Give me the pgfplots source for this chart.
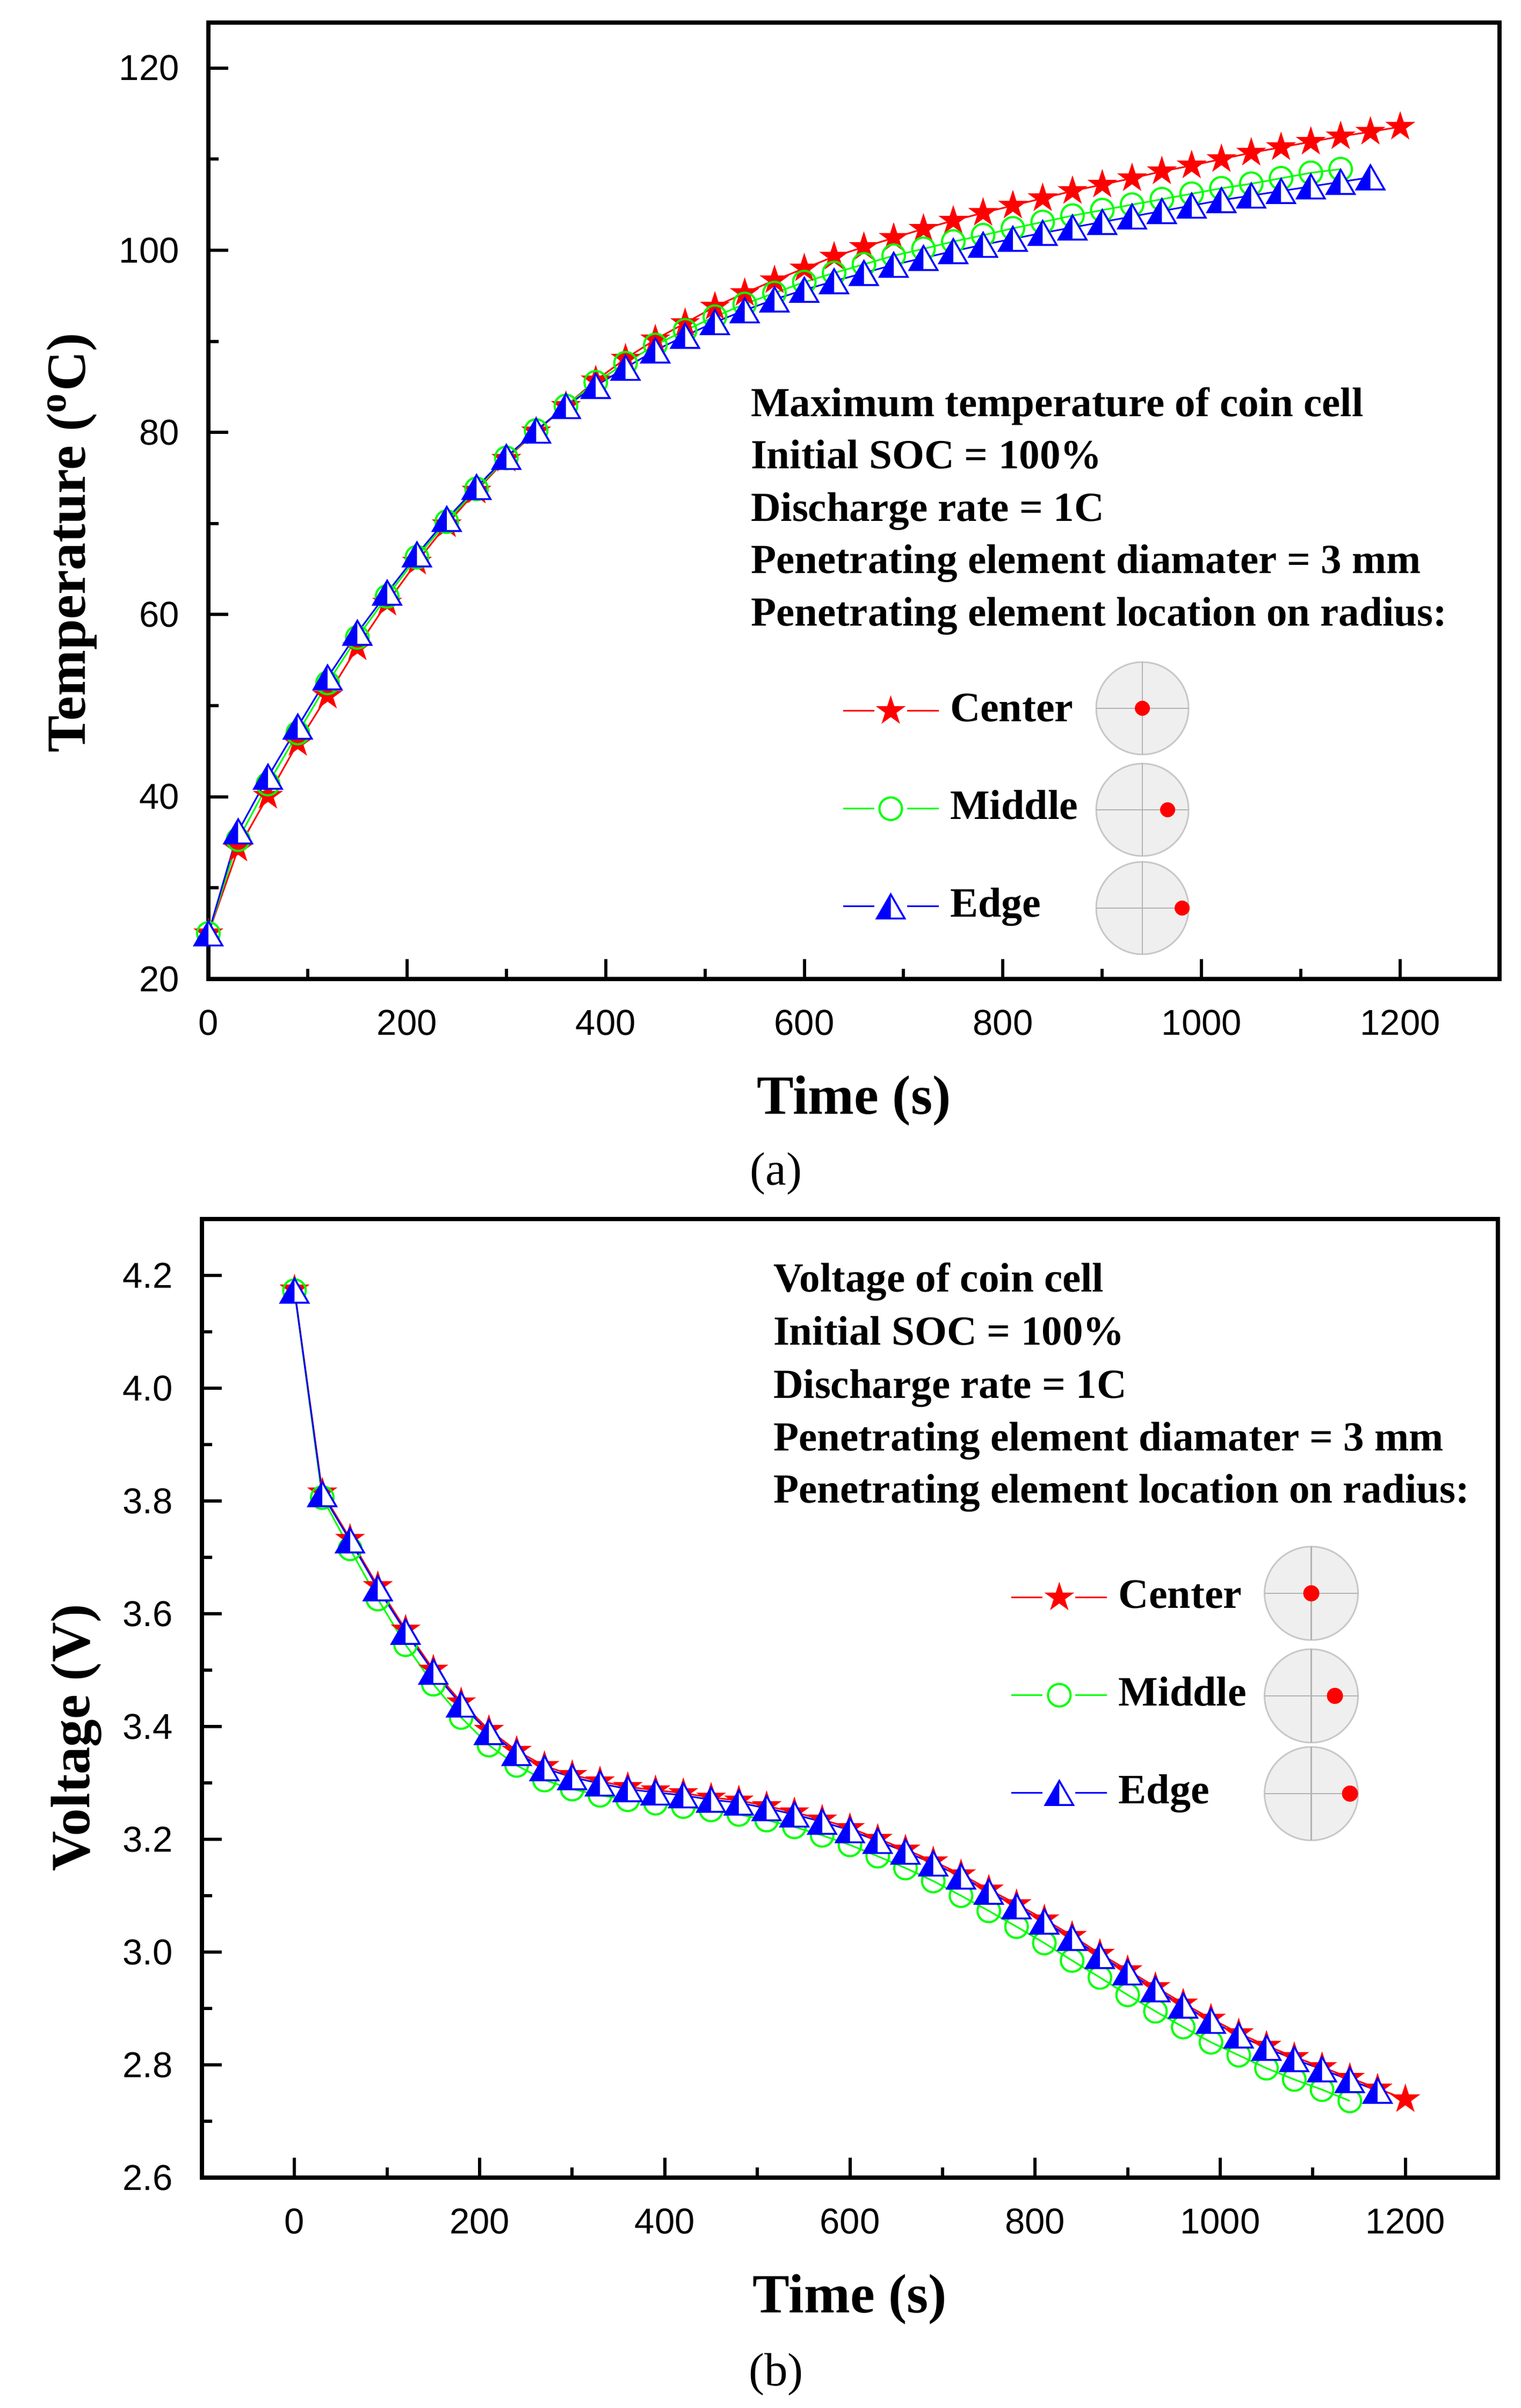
\documentclass[border=0pt]{standalone}
\usepackage{pgfplots}
\pgfplotsset{compat=1.18}
\usepackage{fontspec}
\setmainfont{Liberation Serif}
\newfontfamily\arialfont{Liberation Sans}
\usetikzlibrary{plotmarks}

\pgfdeclareplotmark{fstar}{%
  \pgfpathmoveto{\pgfqpoint{0pt}{\pgfplotmarksize}}%
  \pgfpathlineto{\pgfqpoint{0.2245\pgfplotmarksize}{0.3090\pgfplotmarksize}}%
  \pgfpathlineto{\pgfqpoint{0.9511\pgfplotmarksize}{0.3090\pgfplotmarksize}}%
  \pgfpathlineto{\pgfqpoint{0.3633\pgfplotmarksize}{-0.1180\pgfplotmarksize}}%
  \pgfpathlineto{\pgfqpoint{0.5878\pgfplotmarksize}{-0.8090\pgfplotmarksize}}%
  \pgfpathlineto{\pgfqpoint{0pt}{-0.382\pgfplotmarksize}}%
  \pgfpathlineto{\pgfqpoint{-0.5878\pgfplotmarksize}{-0.8090\pgfplotmarksize}}%
  \pgfpathlineto{\pgfqpoint{-0.3633\pgfplotmarksize}{-0.1180\pgfplotmarksize}}%
  \pgfpathlineto{\pgfqpoint{-0.9511\pgfplotmarksize}{0.3090\pgfplotmarksize}}%
  \pgfpathlineto{\pgfqpoint{-0.2245\pgfplotmarksize}{0.3090\pgfplotmarksize}}%
  \pgfpathclose
  \pgfusepathqfillstroke
}
\pgfdeclareplotmark{halftri}{%
  \pgfpathmoveto{\pgfqpoint{0pt}{0.75\pgfplotmarksize}}%
  \pgfpathlineto{\pgfqpoint{-0.866\pgfplotmarksize}{-0.75\pgfplotmarksize}}%
  \pgfpathlineto{\pgfqpoint{0.866\pgfplotmarksize}{-0.75\pgfplotmarksize}}%
  \pgfpathclose
  \pgfsetfillcolor{white}%
  \pgfusepathqfill
  \pgfpathmoveto{\pgfqpoint{0pt}{0.75\pgfplotmarksize}}%
  \pgfpathlineto{\pgfqpoint{-0.866\pgfplotmarksize}{-0.75\pgfplotmarksize}}%
  \pgfpathlineto{\pgfqpoint{0pt}{-0.75\pgfplotmarksize}}%
  \pgfpathclose
  \pgfsetfillcolor{blue}%
  \pgfusepathqfill
  \pgfpathmoveto{\pgfqpoint{0pt}{0.75\pgfplotmarksize}}%
  \pgfpathlineto{\pgfqpoint{-0.866\pgfplotmarksize}{-0.75\pgfplotmarksize}}%
  \pgfpathlineto{\pgfqpoint{0.866\pgfplotmarksize}{-0.75\pgfplotmarksize}}%
  \pgfpathclose
  \pgfusepathqstroke
}

\definecolor{iconfill}{RGB}{239,239,239}
\definecolor{iconedge}{RGB}{200,200,200}
\definecolor{iconline}{RGB}{178,178,178}

\newcommand\annfont{\bfseries\fontsize{7.7}{9.5}\selectfont}
\newcommand\labfont{\bfseries\fontsize{10.3}{12}\selectfont}

\pgfplotsset{
  legend image code/.code={%
    \draw[#1] (0pt,0pt) -- (5.8pt,0pt) (11.9pt,0pt) -- (17.8pt,0pt);
    \draw[#1] plot coordinates {(8.9pt,0pt)};
  },
  mystyle/.style={
    scale only axis,
    axis line style={line width=0.8pt},
    tick style={line width=0.6pt, black},
    major tick length=3.7pt, minor tick length=1.9pt,
    tick align=inside, tick pos=left,
    minor x tick num=1, minor y tick num=1,
    tick label style={font=\arialfont\fontsize{6.7}{8}\selectfont},
    /pgf/number format/assume math mode=true,
    /pgf/number format/1000 sep={},
    yticklabel style={xshift=-1.9pt},
    xticklabel style={yshift=-2.2pt},
    every axis x label/.style={at={(axis description cs:0.5,0)}, yshift=-25.2pt, anchor=base, font=\labfont},
    legend cell align=left,
    legend style={draw=none, fill=none, inner sep=0pt, row sep=9pt, column sep=1pt,
      font=\bfseries\fontsize{7.8}{9}\selectfont,
      nodes={inner sep=1pt, text height=5.6pt, text depth=1.6pt}},
  },
  cstyle/.style={color=red, line width=0.3pt, mark=fstar, mark size=2.6pt, mark options={solid, fill=red, draw=red, line width=0.2pt}},
  mstyle/.style={color=green, line width=0.3pt, mark=o, mark size=2.1pt, mark options={solid, line width=0.4pt}},
  estyle/.style={color=blue, line width=0.3pt, mark=halftri, mark size=3pt, mark options={solid, line width=0.35pt}},
}

\begin{document}
\begin{tikzpicture}
\useasboundingbox (0,0) rectangle (283.1pt,448.4pt);

% ---------------- (a) temperature ----------------
\begin{axis}[mystyle,
  at={(38.8pt,266.1pt)}, anchor=south west,
  width=240.4pt, height=178.1pt,
  xmin=0, xmax=1300, ymin=20, ymax=125,
  xtick={0,200,...,1200}, ytick={20,40,...,120},
  xlabel={Time (s)},
  ylabel={Temperature (\textsuperscript{o}C)},
  every axis y label/.style={at={(axis description cs:0,0.456)}, xshift=-22.9pt, rotate=90, anchor=base, font=\labfont},
  legend style={at={(axis description cs:0.490,0.3071)}, anchor=north west},
]
\addplot[cstyle] coordinates {
(0,25.0) (30,34.3) (60,40.1) (90,45.9) (120,51.1) (150,56.4) (180,61.3) (210,65.8)
(240,69.9) (270,73.6) (300,77.1) (330,80.1) (360,82.9) (390,85.7) (420,88.1) (450,90.2)
(480,92.0) (510,93.8) (540,95.3) (570,96.7) (600,98.0) (630,99.3) (660,100.35) (690,101.35)
(720,102.35) (750,103.25) (780,104.1) (810,104.9) (840,105.7) (870,106.5) (900,107.2)
(930,107.9) (960,108.65) (990,109.3) (1020,110.0) (1050,110.7) (1080,111.3) (1110,111.9)
(1140,112.5) (1170,113.0) (1200,113.55)
};
\addplot[mstyle] coordinates {
(0,25.0) (30,35.3) (60,41.4) (90,47.0) (120,52.5) (150,57.5) (180,62.0) (210,66.3)
(240,70.2) (270,73.8) (300,77.2) (330,80.2) (360,82.9) (390,85.5) (420,87.6) (450,89.6)
(480,91.2) (510,92.7) (540,94.1) (570,95.3) (600,96.5) (630,97.5) (660,98.45) (690,99.4)
(720,100.15) (750,100.95) (780,101.65) (810,102.4) (840,103.1) (870,103.8) (900,104.4)
(930,105.0) (960,105.6) (990,106.2) (1020,106.8) (1050,107.3) (1080,107.9) (1110,108.5)
(1140,108.9)
};
\addplot[estyle] coordinates {
(0,25.0) (30,36.2) (60,42.2) (90,47.7) (120,53.1) (150,58.0) (180,62.4) (210,66.6)
(240,70.5) (270,74.0) (300,77.3) (330,80.2) (360,82.9) (390,85.1) (420,87.1) (450,89.0)
(480,90.6) (510,92.1) (540,93.4) (570,94.6) (600,95.65) (630,96.6) (660,97.5) (690,98.4)
(720,99.15) (750,99.9) (780,100.6) (810,101.25) (840,101.9) (870,102.5) (900,103.1)
(930,103.7) (960,104.3) (990,104.9) (1020,105.5) (1050,106.0) (1080,106.5) (1110,107.0)
(1140,107.5) (1170,108.0)
};
\legend{Center,Middle,Edge}
\end{axis}

% ---------------- (b) voltage ----------------
\begin{axis}[mystyle,
  at={(37.6pt,42.9pt)}, anchor=south west,
  width=241.3pt, height=178.5pt,
  xmin=-100, xmax=1300, ymin=2.6, ymax=4.3,
  xtick={0,200,...,1200}, ytick={2.6,2.8,3.0,3.2,3.4,3.6,3.8,4.0,4.2},
  yticklabel style={/pgf/number format/.cd, fixed, fixed zerofill, precision=1},
  xlabel={Time (s)},
  ylabel={Voltage (V)},
  every axis y label/.style={at={(axis description cs:0,0.459)}, xshift=-20.9pt, rotate=90, anchor=base, font=\labfont},
  legend style={at={(axis description cs:0.6232,0.6321)}, anchor=north west},
]
\addplot[cstyle] coordinates {
(0,4.175) (30,3.815) (60,3.733) (90,3.649) (120,3.572) (150,3.501) (180,3.443) (210,3.394)
(240,3.357) (270,3.330) (300,3.314) (330,3.303) (360,3.293) (390,3.287) (420,3.282) (450,3.274)
(480,3.269) (510,3.259) (540,3.248) (570,3.235) (600,3.220) (630,3.201) (660,3.182) (690,3.161)
(720,3.138) (750,3.111) (780,3.085) (810,3.058) (840,3.029) (870,2.997) (900,2.968) (930,2.938)
(960,2.909) (990,2.882) (1020,2.856) (1050,2.834) (1080,2.814) (1110,2.796) (1140,2.777)
(1170,2.758) (1200,2.739)
};
\addplot[mstyle] coordinates {
(0,4.173) (30,3.806) (60,3.715) (90,3.626) (120,3.545) (150,3.475) (180,3.416) (210,3.367)
(240,3.331) (270,3.305) (300,3.289) (330,3.278) (360,3.270) (390,3.264) (420,3.258) (450,3.252)
(480,3.244) (510,3.234) (540,3.222) (570,3.207) (600,3.190) (630,3.170) (660,3.149) (690,3.126)
(720,3.100) (750,3.073) (780,3.045) (810,3.016) (840,2.985) (870,2.955) (900,2.924) (930,2.895)
(960,2.867) (990,2.840) (1020,2.817) (1050,2.794) (1080,2.774) (1110,2.756) (1140,2.736)
};
\addplot[estyle] coordinates {
(0,4.173) (30,3.812) (60,3.730) (90,3.645) (120,3.568) (150,3.497) (180,3.439) (210,3.390)
(240,3.353) (270,3.326) (300,3.310) (330,3.299) (360,3.289) (390,3.283) (420,3.278) (450,3.270)
(480,3.265) (510,3.255) (540,3.244) (570,3.231) (600,3.216) (630,3.197) (660,3.178) (690,3.157)
(720,3.134) (750,3.107) (780,3.081) (810,3.054) (840,3.025) (870,2.993) (900,2.964) (930,2.934)
(960,2.905) (990,2.878) (1020,2.852) (1050,2.830) (1080,2.810) (1110,2.792) (1140,2.773)
(1170,2.754)
};
\legend{Center,Middle,Edge}
\end{axis}

% ---------------- annotations ----------------
\node[anchor=base west, inner sep=0pt, font=\annfont] at (139.6pt,370.83pt) {Maximum temperature of coin cell};
\node[anchor=base west, inner sep=0pt, font=\annfont] at (139.6pt,361.10pt) {Initial SOC = 100\%};
\node[anchor=base west, inner sep=0pt, font=\annfont] at (139.6pt,351.33pt) {Discharge rate = 1C};
\node[anchor=base west, inner sep=0pt, font=\annfont] at (139.6pt,341.60pt) {Penetrating element diamater = 3 mm};
\node[anchor=base west, inner sep=0pt, font=\annfont] at (139.6pt,331.82pt) {Penetrating element location on radius:};

\node[anchor=base west, inner sep=0pt, font=\annfont] at (143.8pt,207.84pt) {Voltage of coin cell};
\node[anchor=base west, inner sep=0pt, font=\annfont] at (143.8pt,197.90pt) {Initial SOC = 100\%};
\node[anchor=base west, inner sep=0pt, font=\annfont] at (143.8pt,188.02pt) {Discharge rate = 1C};
\node[anchor=base west, inner sep=0pt, font=\annfont] at (143.8pt,178.23pt) {Penetrating element diamater = 3 mm};
\node[anchor=base west, inner sep=0pt, font=\annfont] at (143.8pt,168.53pt) {Penetrating element location on radius:};

% panel letters
\node[anchor=base, inner sep=0pt, font=\fontsize{8.7}{10}\selectfont] at (144.5pt,227.7pt) {(a)};
\node[anchor=base, inner sep=0pt, font=\fontsize{8.7}{10}\selectfont] at (144.5pt,4.2pt) {(b)};

% ---------------- location icons (top) ----------------
\foreach \yc/\dx in {316.5/0, 297.6/4.7, 279.3/7.4}{
  \filldraw[fill=iconfill, draw=iconedge, line width=0.3pt] (212.7pt,\yc pt) circle (8.6pt);
  \draw[iconline, line width=0.25pt] (204.1pt,\yc pt) -- (221.3pt,\yc pt);
  \draw[iconline, line width=0.25pt] (212.7pt,\yc pt-8.6pt) -- (212.7pt,\yc pt+8.6pt);
  \fill[red] (212.7pt+\dx pt,\yc pt) circle (1.4pt);
}
% ---------------- location icons (bottom) ----------------
\foreach \yc/\dx in {151.7/0, 132.6/4.4, 114.4/7.2}{
  \filldraw[fill=iconfill, draw=iconedge, line width=0.3pt] (244.15pt,\yc pt) circle (8.7pt);
  \draw[iconline, line width=0.25pt] (235.45pt,\yc pt) -- (252.85pt,\yc pt);
  \draw[iconline, line width=0.25pt] (244.15pt,\yc pt-8.7pt) -- (244.15pt,\yc pt+8.7pt);
  \fill[red] (244.15pt+\dx pt,\yc pt) circle (1.5pt);
}
\end{tikzpicture}
\end{document}
